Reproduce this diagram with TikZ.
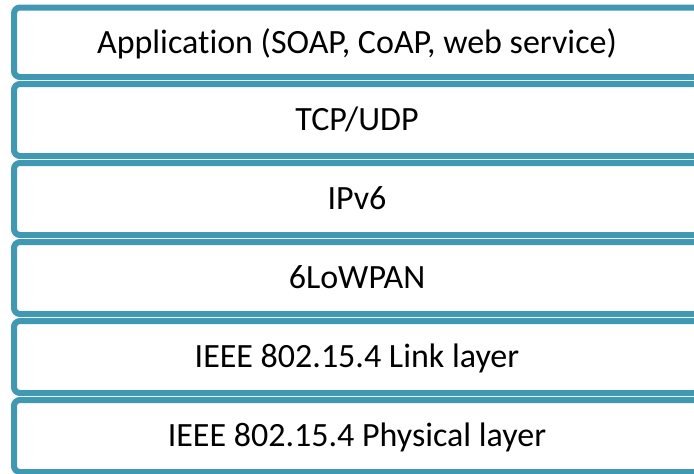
\documentclass[tikz,border=0pt]{standalone}
\usepackage{fontspec}
\setmainfont[RawFeature=-liga]{Carlito}
\definecolor{layerteal}{HTML}{4198B2}
\begin{document}
\begin{tikzpicture}[x=1pt,y=1pt,
  layer/.style={draw=layerteal, line width=6pt, fill=white, rounded corners=6pt,
    inner sep=0pt, minimum width=686pt, anchor=center,
    text height=21.5pt, text depth=0pt,
    font=\fontsize{34}{40}\selectfont, text=black}]
  \useasboundingbox (0,0) rectangle (694,-474);
  \clip (0,0) rectangle (694,-474);
  % protocol stack, top to bottom
  \node[layer, minimum height=69.5pt] (app)  at (357,-42.25) {Application (SOAP, CoAP, web service)};
  \node[layer, minimum height=72pt]   (tcp)  at (357,-120)   {TCP/UDP};
  \node[layer, minimum height=72pt]   (ipv6) at (357,-199)   {IPv6};
  \node[layer, minimum height=72pt]   (lowpan) at (357,-278) {6LoWPAN};
  \node[layer, minimum height=72pt]   (link) at (357,-357)   {IEEE 802.15.4 Link layer};
  \node[layer, minimum height=72pt]   (phy)  at (357,-436)   {IEEE 802.15.4 Physical layer};
\end{tikzpicture}
\end{document}
